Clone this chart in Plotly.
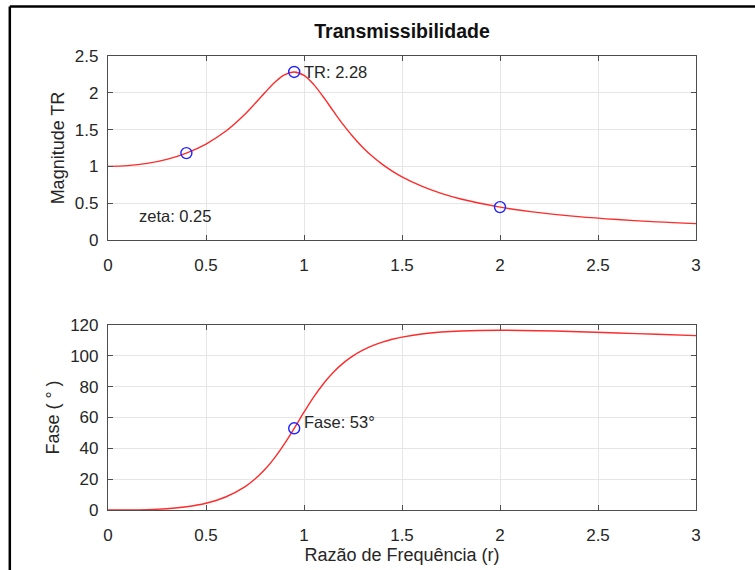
import plotly.graph_objects as go
from plotly.subplots import make_subplots

# frequency ratio samples (r) and values
r = [0.0, 0.1, 0.2, 0.3, 0.4, 0.5, 0.6, 0.7, 0.75, 0.8, 0.85, 0.9, 0.95, 1.0,
     1.05, 1.1, 1.15, 1.2, 1.25, 1.3, 1.35, 1.4, 1.45, 1.5, 1.6, 1.7, 1.8,
     2.0, 2.2, 2.4, 2.6, 2.8, 3.0]
tr = [1.0, 1.010, 1.041, 1.096, 1.181, 1.304, 1.477, 1.713, 1.854, 2.001,
      2.141, 2.245, 2.283, 2.236, 2.111, 1.939, 1.750, 1.567, 1.403, 1.258,
      1.134, 1.027, 0.936, 0.858, 0.731, 0.633, 0.557, 0.447, 0.372, 0.318,
      0.278, 0.246, 0.222]
fase = [0.0, 0.03, 0.24, 0.83, 2.08, 4.40, 8.42, 15.17, 20.05, 26.21, 33.83,
        42.88, 52.99, 63.43, 73.35, 82.09, 89.39, 95.29, 99.98, 103.69,
        106.60, 108.91, 110.73, 112.17, 114.19, 115.42, 116.12, 116.57,
        116.29, 115.66, 114.85, 113.97, 113.07]

# highlighted points
tr_pts_r = [0.4, 0.95, 2.0]
tr_pts_v = [1.181, 2.283, 0.447]
fase_pt_r = [0.95]
fase_pt_v = [52.99]

x_ticks = [0, 0.5, 1, 1.5, 2, 2.5, 3]
x_ticklabels = ["0", "0.5", "1", "1.5", "2", "2.5", "3"]
tr_ticks = [0, 0.5, 1, 1.5, 2, 2.5]
tr_ticklabels = ["0", "0.5", "1", "1.5", "2", "2.5"]
fase_ticks = [0, 20, 40, 60, 80, 100, 120]

FONT = "Liberation Sans, Arial, sans-serif"
TXT = "#262626"
AX = "#4d4d4d"
GRID = "#e6e6e6"

fig = make_subplots(rows=2, cols=1, vertical_spacing=0.0)

fig.add_trace(go.Scatter(x=r, y=tr, mode="lines", line=dict(color="#ff2a2a", width=1.4, shape="spline"),
                         showlegend=False, hoverinfo="skip"), row=1, col=1)
fig.add_trace(go.Scatter(x=tr_pts_r, y=tr_pts_v, mode="markers",
                         marker=dict(symbol="circle-open", size=11, color="#2222ff", line=dict(width=1.4)),
                         showlegend=False), row=1, col=1)
fig.add_trace(go.Scatter(x=r, y=fase, mode="lines", line=dict(color="#ff2a2a", width=1.4, shape="spline"),
                         showlegend=False, hoverinfo="skip"), row=2, col=1)
fig.add_trace(go.Scatter(x=fase_pt_r, y=fase_pt_v, mode="markers",
                         marker=dict(symbol="circle-open", size=11, color="#2222ff", line=dict(width=1.4)),
                         showlegend=False), row=2, col=1)

axis_common = dict(showline=True, linecolor=AX, linewidth=1.2, mirror="allticks",
                   ticks="inside", ticklen=5, tickcolor=AX, showgrid=True,
                   gridcolor=GRID, gridwidth=1, zeroline=False, automargin=False,
                   tickfont=dict(family=FONT, size=17, color=TXT))

fig.update_xaxes(range=[0, 3], tickvals=x_ticks, ticktext=x_ticklabels, ticklabelstandoff=9, **axis_common)
fig.update_yaxes(ticklabelstandoff=5, **axis_common)
fig.update_yaxes(range=[0, 2.5], tickvals=tr_ticks, ticktext=tr_ticklabels,
                 title=dict(text="Magnitude TR", font=dict(family=FONT, size=18, color=TXT), standoff=5),
                 row=1, col=1)
fig.update_yaxes(range=[0, 120], tickvals=fase_ticks,
                 title=dict(text="Fase ( ° )", font=dict(family=FONT, size=18, color=TXT), standoff=5),
                 row=2, col=1)
fig.update_xaxes(title=dict(text="Razão de Frequência (r)", font=dict(family=FONT, size=18, color=TXT), standoff=4),
                 row=2, col=1)

fig.update_layout(
    width=755, height=570,
    margin=dict(l=108, r=59, t=56, b=60, autoexpand=False),
    paper_bgcolor="white", plot_bgcolor="white",
    xaxis=dict(domain=[0, 1]), yaxis=dict(domain=[0.5947, 1.0]),
    xaxis2=dict(domain=[0, 1]), yaxis2=dict(domain=[0.0, 0.4075]),
    title=dict(text="<b>Transmissibilidade</b>", x=0.5, xref="paper", xanchor="center", y=0.945, yanchor="middle",
               font=dict(family=FONT, size=19.5, color="#111111")),
)

ann_font = dict(family=FONT, size=16.5, color=TXT)
fig.add_annotation(x=0.95, y=2.283, xref="x", yref="y", text="TR: 2.28", showarrow=False,
                   xanchor="left", yanchor="middle", xshift=8, font=ann_font)
fig.add_annotation(x=0.15, y=0.33, xref="x", yref="y", text="zeta: 0.25", showarrow=False,
                   xanchor="left", yanchor="middle", font=ann_font)
fig.add_annotation(x=0.95, y=52.99, xref="x2", yref="y2", text="Fase: 53°", showarrow=False,
                   xanchor="left", yanchor="bottom", xshift=8, yshift=-5, font=ann_font)

# outer frame (top and left edges visible in the reference)
fig.add_shape(type="line", xref="paper", yref="paper", x0=-0.167, x1=1.2, y0=1.109, y1=1.109,
              line=dict(color="black", width=2.5))
fig.add_shape(type="line", xref="paper", yref="paper", x0=-0.167, x1=-0.167, y0=1.109, y1=-0.2,
              line=dict(color="black", width=2.5))

fig.write_html("out.html")
